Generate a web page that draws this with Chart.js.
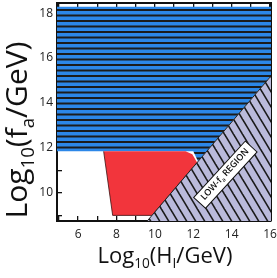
<!DOCTYPE html>
<html>
<head>
<meta charset="utf-8">
<script src="https://cdn.jsdelivr.net/npm/chart.js@4.4.0/dist/chart.umd.min.js"></script>
<style>
html, body { margin: 0; padding: 0; background: #fff; }
</style>
</head>
<body>
<canvas id="axionChart" width="277" height="278"></canvas>
<script>
// axis ticks (log10 values)
var xTicks = [5, 6, 7, 8, 9, 10, 11, 12, 13, 14, 15, 16];
var xLabels = [6, 8, 10, 12, 14, 16];
var yTicks = [9, 10, 11, 12, 13, 14, 15, 16, 17, 18];
var yLabels = [10, 12, 14, 16, 18];

// region boundaries: x = log10(H_I/GeV), y = log10(f_a/GeV)
var blueEdgeX = [4.9, 12.0, 12.25, 16.05];
var blueEdgeY = [11.85, 11.85, 11.4, 15.2];
var blueTop = 18.28;
var redUpperX = [7.33, 11.6, 11.95, 12.2];
var redUpperY = [11.85, 11.85, 11.72, 11.35];
var redLowerX = [7.33, 7.8, 9.85, 12.2];
var redLowerY = [11.85, 9.0, 9.0, 11.35];
var lowFaX = [9.6, 16.05];
var lowFaY = [8.75, 15.2];

var FONT = "'Open Sans', sans-serif";

function pts(xs, ys) {
    var out = [];
    for (var i = 0; i < xs.length; i++) out.push({ x: xs[i], y: ys[i] });
    return out;
}

function stripePattern() {
    var c = document.createElement('canvas');
    c.width = 4; c.height = 11;
    var g = c.getContext('2d');
    g.fillStyle = '#1c1c1c';
    g.fillRect(0, 0, 4, 11);
    g.fillStyle = '#2c87e8';
    g.fillRect(0, 0, 4, 3.5);
    g.fillRect(0, 5.5, 4, 3.5);
    return g.createPattern(c, 'repeat');
}

function hatchPattern() {
    var w = 9, h = 15;
    var c = document.createElement('canvas');
    c.width = w; c.height = h;
    var g = c.getContext('2d');
    g.fillStyle = '#babadb';
    g.fillRect(0, 0, w, h);
    g.strokeStyle = '#1a1a1a';
    g.lineWidth = 1.6;
    for (var k = -1; k <= 1; k++) {
        g.beginPath();
        g.moveTo(k * w - w, -h);
        g.lineTo(k * w + 2 * w, 2 * h);
        g.stroke();
    }
    return g.createPattern(c, 'repeat');
}

// draw text with subscripts, centred on the origin, baseline at y=0
function richText(ctx, parts, size, weight) {
    var total = 0, i, w = weight ? weight + ' ' : '';
    for (i = 0; i < parts.length; i++) {
        ctx.font = w + (parts[i][1] ? size * 0.62 : size) + 'px ' + FONT;
        total += ctx.measureText(parts[i][0]).width;
    }
    var x = -total / 2;
    ctx.textAlign = 'left';
    ctx.textBaseline = 'alphabetic';
    for (i = 0; i < parts.length; i++) {
        var sub = parts[i][1];
        ctx.font = w + (sub ? size * 0.62 : size) + 'px ' + FONT;
        ctx.fillText(parts[i][0], x, sub ? size * 0.22 : 0);
        x += ctx.measureText(parts[i][0]).width;
    }
    return total;
}

var textPlugin = {
    id: 'textPlugin',
    afterDatasetsDraw: function (chart) {
        var ctx = chart.ctx;
        var xs = chart.scales.x, ys = chart.scales.y;
        // region label
        ctx.save();
        ctx.translate(xs.getPixelForValue(13.75), ys.getPixelForValue(10.75));
        ctx.rotate(-0.83);
        ctx.font = '600 9px ' + FONT;
        var parts = [['LOW-f', false], ['a', true], [' REGION', false]];
        var tw = ctx.measureText('LOW-fa REGION').width;
        ctx.fillStyle = '#fff';
        ctx.strokeStyle = '#111';
        ctx.lineWidth = 1;
        ctx.fillRect(-tw / 2 - 4, -10, tw + 8, 16);
        ctx.strokeRect(-tw / 2 - 4, -10, tw + 8, 16);
        ctx.fillStyle = '#111';
        richText(ctx, parts, 9, '600');
        ctx.restore();
    },
    afterDraw: function (chart) {
        var ctx = chart.ctx;
        ctx.save();
        ctx.fillStyle = '#111';
        ctx.translate(165, 263);
        richText(ctx, [['Log', false], ['10', true], ['(H', false], ['I', true], ['/GeV)', false]], 22);
        ctx.restore();
        ctx.save();
        ctx.fillStyle = '#111';
        ctx.translate(27, 130);
        ctx.rotate(-Math.PI / 2);
        richText(ctx, [['Log', false], ['10', true], ['(f', false], ['a', true], ['/GeV)', false]], 30);
        ctx.restore();
    }
};

function tickSetter(vals) {
    return function (scale) {
        scale.ticks = vals.map(function (v) { return { value: v }; });
    };
}

function labelFor(list) {
    return function (v) {
        return list.indexOf(v) >= 0 ? String(v) : '';
    };
}

function fixSize(prop, size) {
    return function (s) {
        s[prop] = size;
        s.paddingLeft = 0; s.paddingRight = 0;
        s.paddingTop = 0; s.paddingBottom = 0;
    };
}

var gridOpts = { drawOnChartArea: false, tickLength: -5, color: '#111', lineWidth: 1.3 };
var borderOpts = { color: '#111', width: 2 };

var ctx = document.getElementById('axionChart').getContext('2d');
var chart = new Chart(ctx, {
    type: 'line',
    data: {
        datasets: [{
            label: 'excluded',
            data: pts(blueEdgeX, blueEdgeY),
            fill: { value: blueTop },
            backgroundColor: stripePattern(),
            borderWidth: 0,
            pointRadius: 0,
            order: 4
        }, {
            label: 'red upper',
            data: pts(redUpperX, redUpperY),
            fill: false,
            borderWidth: 0,
            pointRadius: 0,
            order: 3
        }, {
            label: 'allowed',
            data: pts(redLowerX, redLowerY),
            fill: '-1',
            backgroundColor: '#f2353c',
            borderColor: '#3a1010',
            borderWidth: 0.8,
            pointRadius: 0,
            order: 2
        }, {
            label: 'low fa',
            data: pts(lowFaX, lowFaY),
            fill: 'start',
            backgroundColor: hatchPattern(),
            borderColor: '#222',
            borderWidth: 1,
            pointRadius: 0,
            order: 1
        }]
    },
    options: {
        responsive: false,
        animation: false,
        devicePixelRatio: 1,
        layout: { padding: 0 },
        plugins: { legend: { display: false }, tooltip: { enabled: false } },
        scales: {
            x: {
                type: 'linear', position: 'bottom', min: 4.9, max: 16.05, z: 1,
                afterBuildTicks: tickSetter(xTicks),
                afterFit: fixSize('height', 57),
                ticks: { callback: labelFor(xLabels), autoSkip: false, maxRotation: 0, padding: 11,
                         color: '#222', font: { family: FONT, size: 12 } },
                grid: gridOpts, border: borderOpts
            },
            x2: {
                type: 'linear', position: 'top', min: 4.9, max: 16.05, z: 1,
                afterBuildTicks: tickSetter(xTicks),
                afterFit: fixSize('height', 3),
                ticks: { display: false },
                grid: gridOpts, border: borderOpts
            },
            y: {
                type: 'linear', position: 'left', min: 8.75, max: 18.45, z: 1,
                afterBuildTicks: tickSetter(yTicks),
                afterFit: fixSize('width', 57),
                ticks: { callback: labelFor(yLabels), autoSkip: false, padding: 9,
                         color: '#222', font: { family: FONT, size: 12 } },
                grid: gridOpts, border: borderOpts
            },
            y2: {
                type: 'linear', position: 'right', min: 8.75, max: 18.45, z: 1,
                afterBuildTicks: tickSetter(yTicks),
                afterFit: fixSize('width', 6),
                ticks: { display: false },
                grid: gridOpts, border: borderOpts
            }
        }
    },
    plugins: [textPlugin]
});
</script>
</body>
</html>
